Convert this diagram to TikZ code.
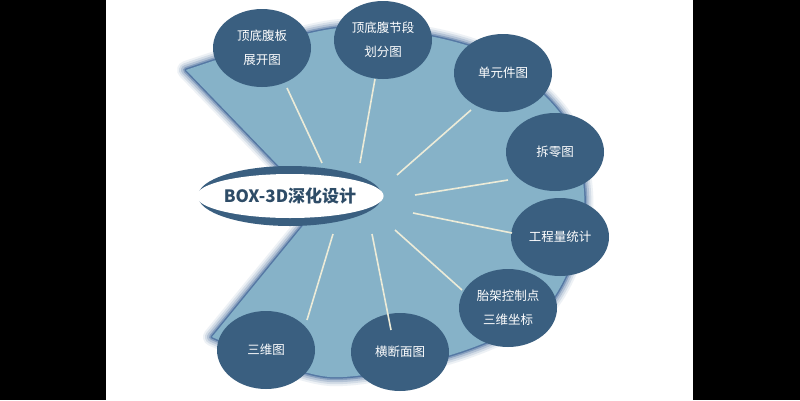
\documentclass[tikz,border=0pt]{standalone}
\usepackage{fontspec}
\newfontfamily\cjk{Noto Sans CJK SC}
\usetikzlibrary{shapes.geometric}
\definecolor{fanc}{HTML}{86B2C8}
\definecolor{darkn}{HTML}{3A5F80}
\definecolor{shad}{HTML}{24528A}
\definecolor{spoke}{HTML}{ECEBD8}
\begin{document}
\begin{tikzpicture}[x=1pt,y=-1pt,
  sat/.style={ellipse,fill=darkn,minimum width=98pt,minimum height=78pt,inner sep=0pt,text=white,font=\cjk\fontsize{12.5}{24}\selectfont,align=center},
  spk/.style={draw=spoke,line width=1.6pt}]
\useasboundingbox (0,0) rectangle (800,400);
\fill[white] (0,0) rectangle (800,400);
\fill[black] (0,0) rectangle (106,400);
\fill[black] (693,0) rectangle (800,400);
\def\fanpath{(186,70) -- (300,188) -- (306,222) -- (212,337) -- plot[smooth] coordinates {(212,337) (330,377) (460,352) (548,305) (584,215) (565,120) (480,50) (340,28) (186,70)} -- cycle}
\foreach \w/\o in {18/0.08,14/0.12,10/0.18,6/0.3,3/0.5}{
  \draw[shad,opacity=\o,line width=\w pt,line join=round] \fanpath;}
\fill[fanc] \fanpath;
\coordinate (c1) at (322,163); \coordinate (c2) at (360,163);
\coordinate (c3) at (397,175); \coordinate (c4) at (415,195);
\coordinate (c5) at (413,213); \coordinate (c6) at (395,230);
\coordinate (c7) at (372,234); \coordinate (c8) at (333,234);
\node[sat] (n1) at (262,48) {顶底腹板\\展开图};
\node[sat] (n2) at (383,40) {顶底腹节段\\划分图};
\node[sat] (n3) at (503,73) {单元件图};
\node[sat] (n4) at (555,152) {拆零图};
\node[sat] (n5) at (560,237) {工程量统计};
\node[sat] (n6) at (508,308) {胎架控制点\\三维坐标};
\node[sat] (n7) at (400,352) {横断面图};
\node[sat] (n8) at (266,350) {三维图};
\draw[spk] (c1) -- (287,88);
\draw[spk] (c2) -- (375,79);
\draw[spk] (c3) -- (471,110);
\draw[spk] (c4) -- (508,180);
\draw[spk] (c5) -- (512,233);
\draw[spk] (c6) -- (462,290);
\draw[spk] (c7) -- (391,330);
\draw[spk] (c8) -- (307,320);
\node[ellipse,fill=darkn,minimum width=184pt,minimum height=60pt] (ctr) at (290,196) {};
\node[ellipse,fill=white,minimum width=164pt,minimum height=44pt,font=\cjk\bfseries\fontsize{17}{20}\selectfont,text=darkn!80!black,inner sep=0pt] (ct) at (290,196) {BOX-3D深化设计};
\end{tikzpicture}
\end{document}
